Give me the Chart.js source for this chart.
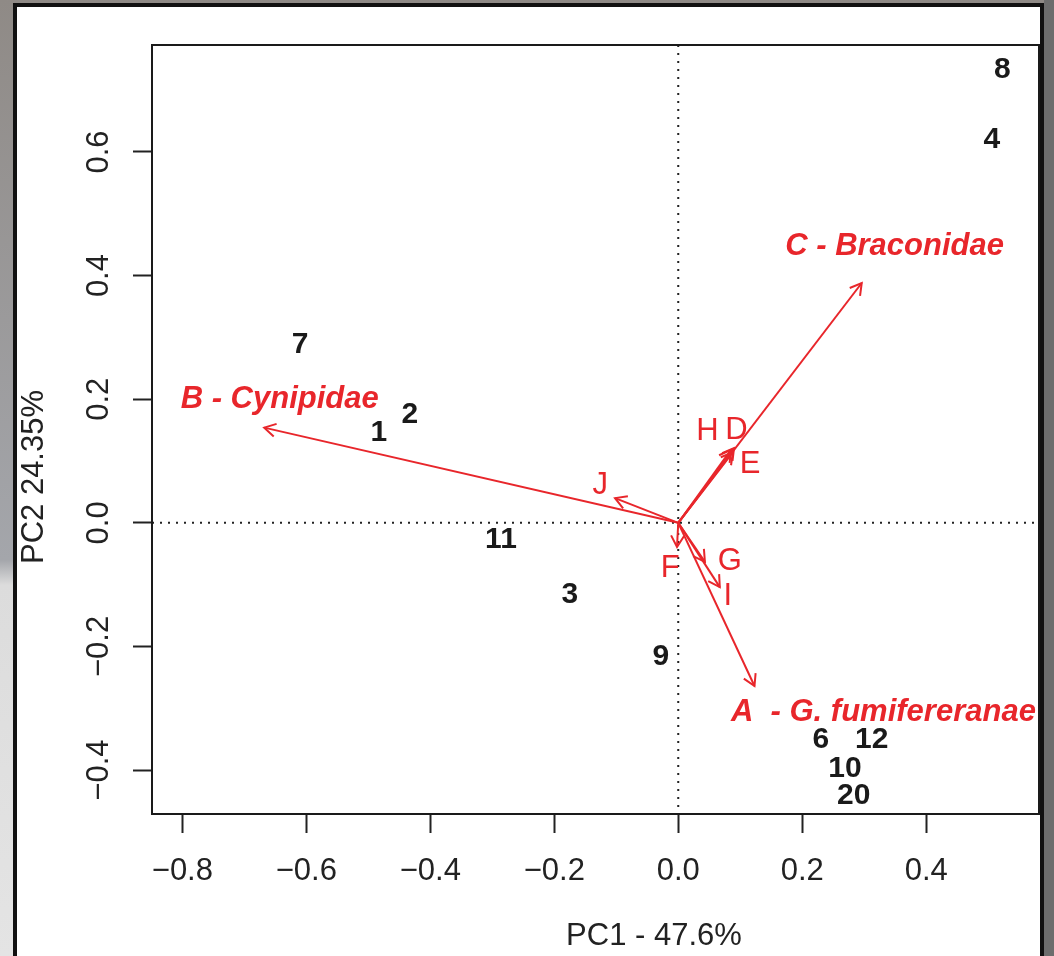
<!DOCTYPE html>
<html>
<head>
<meta charset="utf-8">
<script src="https://cdn.jsdelivr.net/npm/chart.js@4.4.1/dist/chart.umd.min.js"></script>
<style>
  html, body { margin: 0; padding: 0; }
  body {
    width: 1054px; height: 956px; overflow: hidden; position: relative;
    background: linear-gradient(#8f8a86 0px, #a4a6ab 560px, #dcdcdc 585px, #e4e4e4 956px);
  }
  #panel {
    position: absolute; left: 13px; top: 3px; width: 1023px; height: 1000px;
    background: #fff; border: 4px solid #111;
  }
  #rside { position: absolute; left: 1044px; top: 0; width: 10px; height: 956px; background: #6d6d6d; }
  #c { position: absolute; left: 0; top: 0; }
</style>
</head>
<body>
<div id="rside"></div>
<div id="panel"></div>
<canvas id="c" width="1054" height="956"></canvas>
<script>
// sample scores (site numbers)
const siteLabels = ['8', '4', '7', '2', '1', '11', '3', '9', '6', '12', '10', '20'];
const siteX = [0.523, 0.506, -0.610, -0.433, -0.483, -0.286, -0.175, -0.028, 0.230, 0.312, 0.269, 0.283];
const siteY = [0.733, 0.620, 0.288, 0.175, 0.145, -0.028, -0.117, -0.216, -0.351, -0.351, -0.397, -0.442];

// variable loadings (arrows)
const varNames = ['A  - G. fumifereranae', 'B - Cynipidae', 'C - Braconidae', 'D', 'E', 'F', 'G', 'H', 'I', 'J'];
const varX = [0.123, -0.668, 0.296, 0.090, 0.088, -0.002, 0.043, 0.085, 0.067, -0.102];
const varY = [-0.264, 0.154, 0.388, 0.121, 0.114, -0.039, -0.063, 0.118, -0.104, 0.040];
// where each arrow's label sits
const varLabelX = [0.331, -0.643, 0.349, 0.094, 0.116, -0.013, 0.083, 0.047, 0.080, -0.126];
const varLabelY = [-0.306, 0.199, 0.447, 0.150, 0.094, -0.073, -0.063, 0.148, -0.119, 0.061];
const groupVar = [true, true, true, false, false, false, false, false, false, false];

const xTicks = [-0.8, -0.6, -0.4, -0.2, 0.0, 0.2, 0.4];
const yTicks = [-0.4, -0.2, 0.0, 0.2, 0.4, 0.6];
const xRange = [-0.849, 0.582];
const yRange = [-0.471, 0.773];

const RED = '#e8262b';
const FONT = '"Liberation Sans", Arial, sans-serif';

const fmt = v => v.toFixed(1).replace('-', '\u2212');

const datasets = [{
  label: 'sites',
  data: siteX.map((x, i) => ({ x: x, y: siteY[i] })),
  pointRadius: 0
}];
varNames.forEach((n, i) => {
  datasets.push({
    label: n,
    data: [{ x: 0, y: 0 }, { x: varX[i], y: varY[i] }],
    showLine: true,
    borderColor: RED,
    borderWidth: 2,
    pointRadius: 0
  });
});

const biplotPlugin = {
  id: 'biplot',
  beforeDatasetsDraw(chart) {
    const { ctx, chartArea: a, scales: { x, y } } = chart;
    ctx.save();
    ctx.strokeStyle = '#222';
    ctx.lineWidth = 2;
    ctx.setLineDash([2, 6]);
    const x0 = x.getPixelForValue(0), y0 = y.getPixelForValue(0);
    ctx.beginPath();
    ctx.moveTo(x0, a.top); ctx.lineTo(x0, a.bottom);
    ctx.moveTo(a.left, y0); ctx.lineTo(a.right, y0);
    ctx.stroke();
    ctx.restore();
  },
  afterDatasetsDraw(chart) {
    const { ctx, chartArea: a, scales: { x, y } } = chart;
    ctx.save();
    // arrow heads
    ctx.strokeStyle = RED;
    ctx.lineWidth = 2;
    for (let i = 0; i < varNames.length; i++) {
      const pts = chart.getDatasetMeta(i + 1).data;
      const p0 = pts[0], p1 = pts[1];
      const ang = Math.atan2(p1.y - p0.y, p1.x - p0.x);
      const len = 13, spread = Math.PI / 6;
      ctx.beginPath();
      ctx.moveTo(p1.x - len * Math.cos(ang - spread), p1.y - len * Math.sin(ang - spread));
      ctx.lineTo(p1.x, p1.y);
      ctx.lineTo(p1.x - len * Math.cos(ang + spread), p1.y - len * Math.sin(ang + spread));
      ctx.stroke();
    }
    // arrow labels
    ctx.fillStyle = RED;
    ctx.textAlign = 'center';
    ctx.textBaseline = 'middle';
    for (let i = 0; i < varNames.length; i++) {
      ctx.font = (groupVar[i] ? 'italic bold 31px ' : '31px ') + FONT;
      ctx.fillText(varNames[i], x.getPixelForValue(varLabelX[i]), y.getPixelForValue(varLabelY[i]));
    }
    // site numbers
    ctx.fillStyle = '#1a1a1a';
    ctx.font = 'bold 30px ' + FONT;
    chart.getDatasetMeta(0).data.forEach((el, i) => {
      ctx.fillText(siteLabels[i], el.x, el.y);
    });
    // box
    ctx.strokeStyle = '#1a1a1a';
    ctx.lineWidth = 2;
    ctx.strokeRect(a.left, a.top, a.right - a.left, a.bottom - a.top);
    // axis titles
    ctx.fillStyle = '#222';
    ctx.font = '31px ' + FONT;
    ctx.fillText('PC1 - 47.6%', 654, 936);
    ctx.translate(34, 477);
    ctx.rotate(-Math.PI / 2);
    ctx.fillText('PC2 24.35%', 0, 0);
    ctx.restore();
  }
};

new Chart(document.getElementById('c'), {
  type: 'scatter',
  data: { datasets: datasets },
  options: {
    responsive: false,
    animation: false,
    layout: { padding: { top: 45, right: 15, left: 0, bottom: 0 } },
    plugins: { legend: { display: false }, tooltip: { enabled: false } },
    scales: {
      x: {
        type: 'linear',
        min: xRange[0], max: xRange[1],
        afterBuildTicks: s => { s.ticks = xTicks.map(v => ({ value: v })); },
        afterFit: s => { s.height = 142; },
        grid: { drawOnChartArea: false, tickLength: 19, tickWidth: 2, tickColor: '#222' },
        border: { display: false },
        ticks: {
          padding: 20, color: '#222', maxRotation: 0, autoSkip: false,
          font: { family: FONT, size: 31 },
          callback: v => fmt(v)
        }
      },
      y: {
        type: 'linear',
        min: yRange[0], max: yRange[1],
        afterBuildTicks: s => { s.ticks = yTicks.map(v => ({ value: v })); },
        afterFit: s => { s.width = 152; },
        grid: { drawOnChartArea: false, tickLength: 19, tickWidth: 2, tickColor: '#222' },
        border: { display: false },
        ticks: {
          padding: 3, color: '#222', minRotation: 90, maxRotation: 90, crossAlign: 'center', autoSkip: false,
          font: { family: FONT, size: 31 },
          callback: v => fmt(v)
        }
      }
    }
  },
  plugins: [biplotPlugin]
});
</script>
</body>
</html>
